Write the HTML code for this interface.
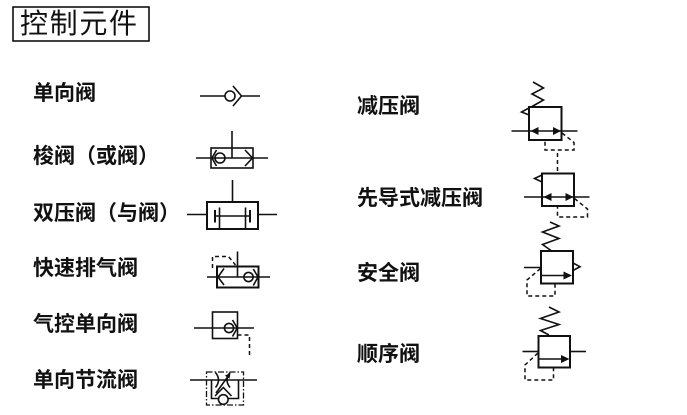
<!DOCTYPE html>
<html><head><meta charset="utf-8"><style>
html,body{margin:0;padding:0;background:#fff;}
svg{display:block;}
.t{font-family:"Liberation Sans","Noto Sans CJK SC",sans-serif;font-size:21px;font-weight:700;fill:#111;}
.ttl{font-family:"Liberation Sans","Noto Sans CJK SC",sans-serif;font-size:28px;font-weight:400;fill:#111;}
.l{stroke:#111;stroke-width:1.6;fill:none;}
.b{stroke:#111;stroke-width:2;fill:none;}
.d{stroke:#111;stroke-width:1.5;fill:none;stroke-dasharray:4,3;}
.dd{stroke:#111;stroke-width:1.3;fill:none;stroke-dasharray:6,2,1.5,2;}
.f{fill:#111;stroke:none;}
</style></head><body>
<svg width="687" height="415" viewBox="0 0 687 415" xmlns="http://www.w3.org/2000/svg">
<rect x="13" y="7" width="136" height="34" fill="none" stroke="#111" stroke-width="1.6"/>
<text class="ttl" x="20" y="33" textLength="117">控制元件</text>

<text class="t" x="33" y="100">单向阀</text>
<text class="t" x="33" y="163">梭阀（或阀）</text>
<text class="t" x="33" y="220">双压阀（与阀）</text>
<text class="t" x="33" y="275">快速排气阀</text>
<text class="t" x="33" y="331">气控单向阀</text>
<text class="t" x="33" y="387">单向节流阀</text>

<text class="t" x="357" y="113">减压阀</text>
<text class="t" x="357" y="205">先导式减压阀</text>
<text class="t" x="357" y="280">安全阀</text>
<text class="t" x="357" y="361">顺序阀</text>

<!-- 单向阀 -->
<line class="l" x1="200" y1="96" x2="225" y2="96"/>
<circle class="l" cx="230" cy="96" r="5"/>
<polyline class="l" points="233,86 241.5,96 233,106"/>
<line class="l" x1="241.5" y1="96" x2="260" y2="96"/>

<!-- 梭阀 -->
<rect class="l" x="211" y="148" width="42" height="20"/>
<line class="l" x1="196" y1="158" x2="268" y2="158"/>
<line class="l" x1="232" y1="131" x2="232" y2="158"/>
<circle class="l" cx="220" cy="158" r="5" fill="#fff"/>
<polyline class="l" points="216.5,150 212,158 216.5,166"/>
<polyline class="l" points="245,150 252.5,158 245,166"/>

<!-- 双压阀 -->
<rect class="b" x="207" y="202" width="51" height="27"/>
<line class="l" x1="187" y1="214.5" x2="207" y2="214.5"/>
<line class="l" x1="258" y1="214.5" x2="277" y2="214.5"/>
<line class="l" x1="232.5" y1="180" x2="232.5" y2="202"/>
<line class="l" x1="219.5" y1="207.5" x2="219.5" y2="229"/>
<line class="l" x1="245.5" y1="207.5" x2="245.5" y2="229"/>
<line class="b" x1="215" y1="210" x2="215" y2="222.5"/>
<line class="b" x1="250" y1="210" x2="250" y2="222.5"/>
<line class="l" x1="215" y1="216" x2="250" y2="216"/>

<!-- 快速排气阀 -->
<rect class="b" x="217" y="266.5" width="41.5" height="21"/>
<line class="l" x1="207" y1="277" x2="270" y2="277"/>
<line class="l" x1="237.5" y1="251.5" x2="237.5" y2="277"/>
<polyline class="d" points="212.5,268 212.5,256.5 228.5,256.5 235.5,265"/>
<polyline class="l" points="224,268.5 218,277 224,285"/>
<circle class="l" cx="248.5" cy="277" r="4.6" fill="#fff"/>
<polyline class="l" points="253.3,269 258,277 253.3,285.5"/>

<!-- 气控单向阀 -->
<rect class="l" x="212.5" y="312" width="25" height="26.5"/>
<line class="l" x1="194" y1="328" x2="254" y2="328"/>
<circle class="l" cx="229" cy="328" r="4.6" fill="#fff"/>
<polyline class="l" points="232.5,320 237.3,328 232.5,336.5"/>
<polyline class="d" points="237.5,335 249.5,335 249.5,358"/>

<!-- 单向节流阀 -->
<rect class="dd" x="206.5" y="372" width="37" height="33"/>
<line class="l" x1="190" y1="380" x2="257" y2="380"/>
<polyline class="l" points="211.5,380 211.5,398.5 218,398.5"/>
<polyline class="l" points="238.5,380 238.5,398.5 228.5,398.5"/>
<circle class="l" cx="223.3" cy="399.5" r="4.8" fill="#fff"/>
<polyline class="l" points="215,396 223.3,387.5 231.5,396"/>
<path class="l" d="M215.5,372.5 Q221.5,380 215.5,387.5"/>
<path class="l" d="M230,372.5 Q224,380 230,387.5"/>
<line class="l" x1="216" y1="393" x2="229" y2="375"/>
<path class="f" d="M230.5,373 L224.8,375.6 L229.5,378.8 Z"/>

<!-- 减压阀 -->
<polyline class="l" points="533,82 543.5,88 532,94 543.5,100 532,106.5"/>
<rect class="b" x="529" y="107" width="32.5" height="33"/>
<polygon class="l" points="529,108 521.5,112 529,115" fill="#fff"/>
<line class="l" x1="511.5" y1="131" x2="577.5" y2="131"/>
<path class="f" d="M530.5,131 L538.5,127 L538.5,135 Z"/>
<path class="f" d="M561,131 L553,127 L553,135 Z"/>
<polyline class="d" points="562,133 574,142.5 574,150 545,150 545,140.5"/>
<line class="d" x1="557.5" y1="153" x2="557.5" y2="173.5"/>

<!-- 先导式减压阀 -->
<rect class="b" x="542" y="173.5" width="32" height="32.5"/>
<polygon class="l" points="542,175 534.5,178.5 542,182" fill="#fff"/>
<line class="l" x1="524" y1="197" x2="589.5" y2="197"/>
<path class="f" d="M543.5,197 L551.5,193 L551.5,201 Z"/>
<path class="f" d="M573.5,197 L565.5,193 L565.5,201 Z"/>
<polyline class="d" points="574.5,198.5 587.5,209 587.5,217 557.5,217 557.5,206.5"/>

<!-- 安全阀 -->
<polyline class="l" points="550,222 559,226 542.5,232 559,238.5 542.5,244.5 551,250.5"/>
<rect class="b" x="541" y="251" width="32" height="32.5"/>
<polygon class="l" points="573,263 580,266.7 573,270.5" fill="#fff"/>
<line class="l" x1="524" y1="267.5" x2="541" y2="267.5"/>
<line class="l" x1="541" y1="275.5" x2="565" y2="275.5"/>
<path class="f" d="M572,275.5 L563.5,271.5 L563.5,279.5 Z"/>
<polyline class="d" points="540.5,268.5 527,280 527,296 555,296 555,284"/>

<!-- 顺序阀 -->
<polyline class="l" points="549,307 559,312 540.5,318.5 559,324.5 540.5,330.5 549,335"/>
<rect class="b" x="538.5" y="336" width="31.5" height="31.5"/>
<line class="l" x1="522.5" y1="351.5" x2="538.5" y2="351.5"/>
<line class="l" x1="570" y1="351.5" x2="586" y2="351.5"/>
<line class="l" x1="538.5" y1="359" x2="562" y2="359"/>
<path class="f" d="M569.5,359 L561,355 L561,363 Z"/>
<polyline class="d" points="538,353 525,365 525,380 553.5,380 553.5,368"/>
</svg>
</body></html>
